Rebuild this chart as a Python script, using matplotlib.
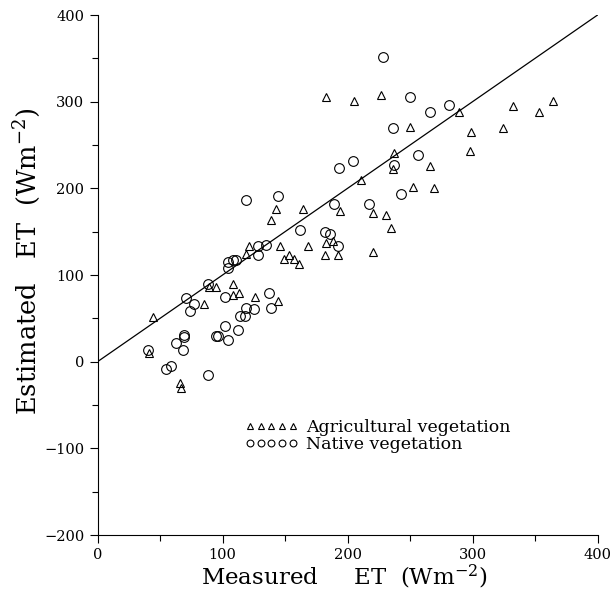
import matplotlib.pyplot as plt

plt.rcParams['font.family'] = 'DejaVu Serif'
plt.rcParams['mathtext.fontset'] = 'dejavuserif'

# values (W m-2)
agri_x = [183, 205, 227, 289, 332, 353, 364, 250, 324, 299, 298, 237, 236, 266, 211, 252, 269,
          220, 231, 235, 220, 194, 143, 164, 139, 121, 119, 146, 168, 183, 188, 182, 192, 149,
          153, 157, 161, 89, 95, 108, 108, 113, 126, 144, 85, 44, 41, 66, 67]
agri_y = [305, 301, 308, 288, 295, 288, 301, 271, 270, 265, 243, 241, 222, 226, 210, 202, 200,
          171, 169, 154, 127, 174, 176, 176, 164, 133, 124, 134, 134, 137, 139, 123, 123, 118,
          123, 118, 113, 86, 86, 90, 77, 79, 75, 70, 67, 51, 10, -25, -30]

native_x = [228, 250, 266, 281, 236, 204, 193, 256, 237, 243, 217, 119, 144, 189, 162, 182, 186,
            192, 128, 135, 128, 104, 108, 111, 104, 88, 102, 137, 139, 119, 125, 114, 118, 71,
            77, 74, 102, 112, 95, 96, 104, 69, 69, 63, 68, 40, 55, 59, 88]
native_y = [351, 305, 288, 296, 270, 231, 224, 239, 227, 194, 182, 186, 191, 182, 152, 150, 147,
            133, 134, 135, 123, 115, 117, 117, 108, 90, 75, 79, 62, 62, 61, 53, 53, 73,
            67, 58, 41, 36, 30, 30, 25, 31, 28, 21, 14, 14, -9, -5, -15]

# 1:1 line
line_x = [0, 400]
line_y = [0, 400]

fig = plt.figure(figsize=(6.13, 5.94), dpi=100)
ax = fig.add_axes([0.1591, 0.0993, 0.8157, 0.8754])

ax.plot(line_x, line_y, color='black', lw=0.9)
ax.plot(agri_x, agri_y, '^', ms=6.3, mfc='none', mec='black', mew=0.8,
        label='Agricultural vegetation')
ax.plot(native_x, native_y, 'o', ms=7, mfc='none', mec='black', mew=0.8,
        label='Native vegetation')

ax.set_xlim(0, 400)
ax.set_ylim(-200, 400)
ax.set_xticks(range(0, 401, 100))
ax.set_xticks(range(50, 400, 100), minor=True)
ax.set_yticks(range(-200, 401, 100))
ax.set_yticks(range(-150, 400, 100), minor=True)
ax.tick_params(which='major', direction='out', length=6, width=0.8, labelsize=10.5)
ax.tick_params(which='minor', direction='out', length=4, width=0.8)
for s in ['top', 'right']:
    ax.spines[s].set_visible(False)
for s in ['left', 'bottom']:
    ax.spines[s].set_linewidth(0.8)

ax.legend(loc='center left', bbox_to_anchor=(0.294, 0.191), frameon=False,
          numpoints=5, markerscale=0.7, fontsize=12.5, handlelength=3.1,
          handletextpad=0.45, labelspacing=0.0, borderpad=0, borderaxespad=0)

fig.text(344 / 613, 1 - 585 / 594, 'Measured     ET  (Wm$^{-2}$)', ha='center',
         va='baseline', fontsize=16.5)
fig.text(27 / 613, 1 - 261 / 594, 'Estimated   ET  (Wm$^{-2}$)', ha='center',
         va='center', rotation=90, fontsize=18.5)

plt.savefig('out.png')
